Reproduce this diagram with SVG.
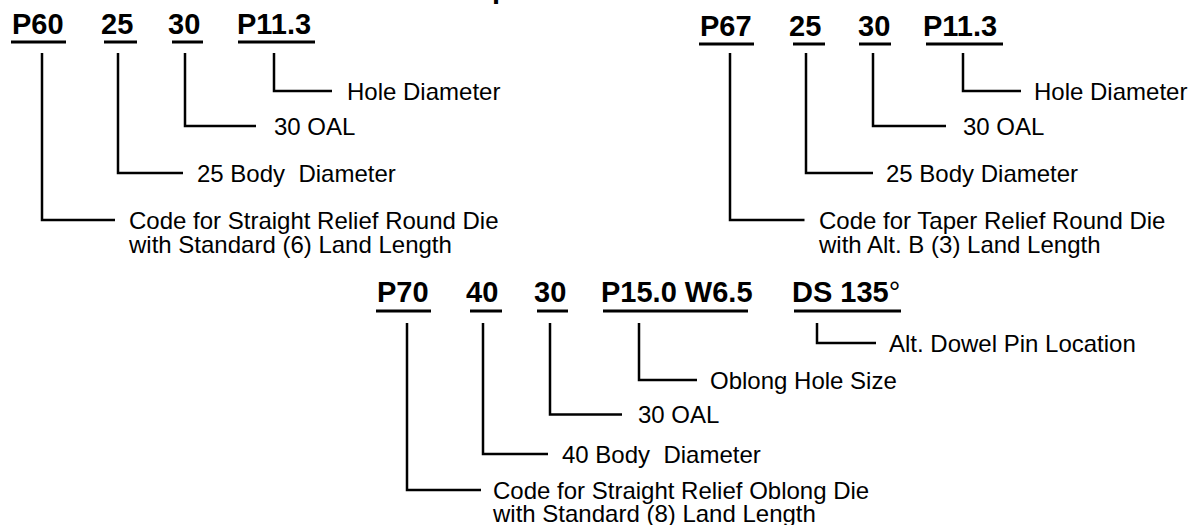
<svg xmlns="http://www.w3.org/2000/svg" width="1191" height="525" viewBox="0 0 1191 525">
<style>
  .code{font-family:"Liberation Sans",Arial,sans-serif;font-weight:bold;font-size:29px;fill:#000}
  .desc{font-family:"Liberation Sans",Arial,sans-serif;font-size:24px;fill:#000}
  .ul{stroke:#000;stroke-width:3;fill:none}
  .con path{stroke:#000;stroke-width:2.5;fill:none;stroke-linejoin:miter;stroke-linecap:butt}
</style>
<rect width="1191" height="525" fill="#fff"/>
<text class="code" x="492" y="-2">p</text>

<!-- Left group -->
<g id="p60"><text class="code" x="12" y="34">P60</text><line class="ul" x1="11" y1="42" x2="66" y2="42"/></g>
<g id="l25"><text class="code" x="101" y="34">25</text><line class="ul" x1="104" y1="42" x2="137" y2="42"/></g>
<g id="l30"><text class="code" x="168" y="34">30</text><line class="ul" x1="172" y1="42" x2="203" y2="42"/></g>
<g id="lp113"><text class="code" x="237" y="34">P11.3</text><line class="ul" x1="238" y1="42" x2="315" y2="42"/></g>
<g id="l-hole"><text class="desc" x="347" y="99.6">Hole Diameter</text></g>
<g id="l-oal"><text class="desc" x="274" y="134.6">30 OAL</text></g>
<g id="l-body"><text class="desc" x="197" y="181.6" xml:space="preserve">25 Body  Diameter</text></g>
<g id="l-code"><text class="desc" x="129" y="229">Code for Straight Relief Round Die</text><text class="desc" x="129" y="252.5">with Standard (6) Land Length</text></g>

<!-- Right group -->
<g id="p67"><text class="code" x="700" y="36">P67</text><line class="ul" x1="699" y1="44" x2="754" y2="44"/></g>
<g id="r25"><text class="code" x="789" y="36">25</text><line class="ul" x1="793" y1="44" x2="825" y2="44"/></g>
<g id="r30"><text class="code" x="858" y="36">30</text><line class="ul" x1="859" y1="44" x2="891" y2="44"/></g>
<g id="rp113"><text class="code" x="923" y="36">P11.3</text><line class="ul" x1="926" y1="44" x2="1003" y2="44"/></g>
<g id="r-hole"><text class="desc" x="1034" y="99.6">Hole Diameter</text></g>
<g id="r-oal"><text class="desc" x="963" y="134.6">30 OAL</text></g>
<g id="r-body"><text class="desc" x="886" y="181.6">25 Body Diameter</text></g>
<g id="r-code"><text class="desc" x="819" y="229">Code for Taper Relief Round Die</text><text class="desc" x="819" y="252.5">with Alt. B (3) Land Length</text></g>

<!-- Bottom group -->
<g id="p70"><text class="code" x="377" y="302">P70</text><line class="ul" x1="376" y1="311" x2="431" y2="311"/></g>
<g id="b40"><text class="code" x="466" y="302">40</text><line class="ul" x1="470" y1="311" x2="502" y2="311"/></g>
<g id="b30"><text class="code" x="534" y="302">30</text><line class="ul" x1="537" y1="311" x2="568" y2="311"/></g>
<g id="bp15"><text class="code" x="601" y="302">P15.0 W6.5</text><line class="ul" x1="603" y1="311" x2="748" y2="311"/></g>
<g id="bds"><text class="code" x="792" y="302">DS 135<tspan font-weight="normal">°</tspan></text><line class="ul" x1="794" y1="311" x2="901" y2="311"/></g>
<g id="b-dowel"><text class="desc" x="889" y="351.6">Alt. Dowel Pin Location</text></g>
<g id="b-oblong"><text class="desc" x="710" y="388.6">Oblong Hole Size</text></g>
<g id="b-oal"><text class="desc" x="638" y="423">30 OAL</text></g>
<g id="b-body"><text class="desc" x="562" y="462.6" xml:space="preserve">40 Body  Diameter</text></g>
<g id="b-code"><text class="desc" x="493" y="498.6">Code for Straight Relief Oblong Die</text><text class="desc" x="493" y="522">with Standard (8) Land Length</text></g>

<g id="connectors" class="con">
  <path d="M42 53V220H115"/>
  <path d="M118 53V173H183"/>
  <path d="M185 53V126H256"/>
  <path d="M274 53V91H332"/>
  <path d="M730 53V220H804.5"/>
  <path d="M806 53V173H873"/>
  <path d="M873 53V126H946"/>
  <path d="M963 53V91H1021"/>
  <path d="M407 323V490H481"/>
  <path d="M483 323V454H548"/>
  <path d="M550 323V414.5H622"/>
  <path d="M639 323V380H697"/>
  <path d="M817 323V343H876"/>
</g>
</svg>
